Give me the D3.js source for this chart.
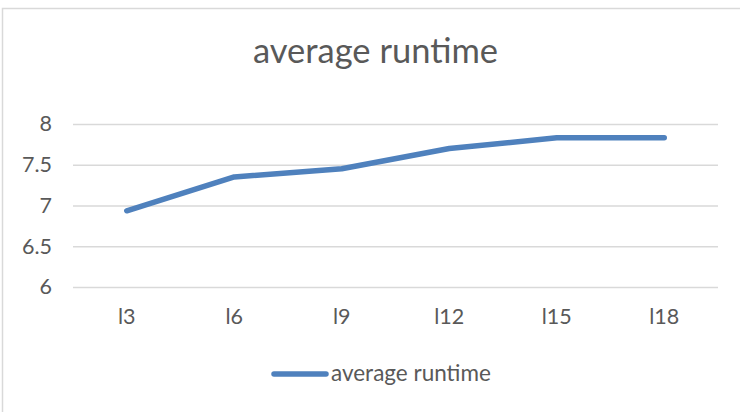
<!DOCTYPE html>
<html>
<head>
<meta charset="utf-8">
<script src="https://cdn.jsdelivr.net/npm/d3@7"></script>
<style>
  html, body { margin: 0; padding: 0; background: #fff; }
  svg { display: block; font-family: Lato, "Open Sans", sans-serif; }
</style>
</head>
<body>
<svg id="chart" width="740" height="412"></svg>
<script>
// Categories and the average runtime measured for each one
const categories = ["l3", "l6", "l9", "l12", "l15", "l18"];
const runtimes = [6.935, 7.35, 7.45, 7.70, 7.83, 7.83];
const yTicks = [6, 6.5, 7, 7.5, 8];
const seriesName = "average runtime";
const titleText = "average runtime";

const svg = d3.select("#chart");
const textColor = "#595959";
const gridColor = "#d9d9d9";
const lineColor = "#4f81bd";

// Chart frame
svg.append("rect")
  .attr("x", 2.5).attr("y", 8.5)
  .attr("width", 800).attr("height", 500)
  .attr("fill", "none").attr("stroke", gridColor).attr("stroke-width", 1.5);

const plot = { left: 73, right: 718, top: 124, bottom: 287 };

const x = d3.scaleBand().domain(categories).range([plot.left, plot.right]);
const y = d3.scaleLinear().domain([6, 8]).range([plot.bottom, plot.top]);

// Title
svg.append("text")
  .attr("x", 375.5).attr("y", 63)
  .attr("text-anchor", "middle")
  .attr("font-size", 34.5)
  .attr("fill", textColor)
  .text(titleText);

// Horizontal gridlines with value labels
const yAxis = d3.axisLeft(y).tickValues(yTicks)
  .tickSize(-(plot.right - plot.left)).tickPadding(20)
  .tickFormat(d3.format("~g"));
const gy = svg.append("g").attr("transform", `translate(${plot.left},0)`).call(yAxis);
gy.select(".domain").remove();
gy.selectAll(".tick line").attr("stroke", gridColor).attr("stroke-width", 1.5);
gy.selectAll(".tick text").attr("fill", textColor).attr("font-size", 21.5)
  .attr("font-family", "Lato, sans-serif").attr("x", 52 - plot.left);

// Category labels
const xAxis = d3.axisBottom(x).tickSize(0).tickPadding(22);
const gx = svg.append("g").attr("transform", `translate(0,${plot.bottom})`).call(xAxis);
gx.select(".domain").remove();
gx.selectAll(".tick text").attr("fill", textColor).attr("font-size", 21.5)
  .attr("font-family", "Lato, sans-serif");

// Series line
const line = d3.line()
  .x((d, i) => x(categories[i]) + x.bandwidth() / 2)
  .y(d => y(d));
svg.append("path")
  .datum(runtimes)
  .attr("d", line)
  .attr("fill", "none")
  .attr("stroke", lineColor)
  .attr("stroke-width", 5.5)
  .attr("stroke-linecap", "round")
  .attr("stroke-linejoin", "round");

// Legend
const legend = svg.append("g");
legend.append("line")
  .attr("x1", 274).attr("x2", 326).attr("y1", 374).attr("y2", 374)
  .attr("stroke", lineColor).attr("stroke-width", 5.5).attr("stroke-linecap", "round");
legend.append("text")
  .attr("x", 331).attr("y", 381)
  .attr("font-size", 22.5)
  .attr("fill", textColor)
  .text(seriesName);
</script>
</body>
</html>
